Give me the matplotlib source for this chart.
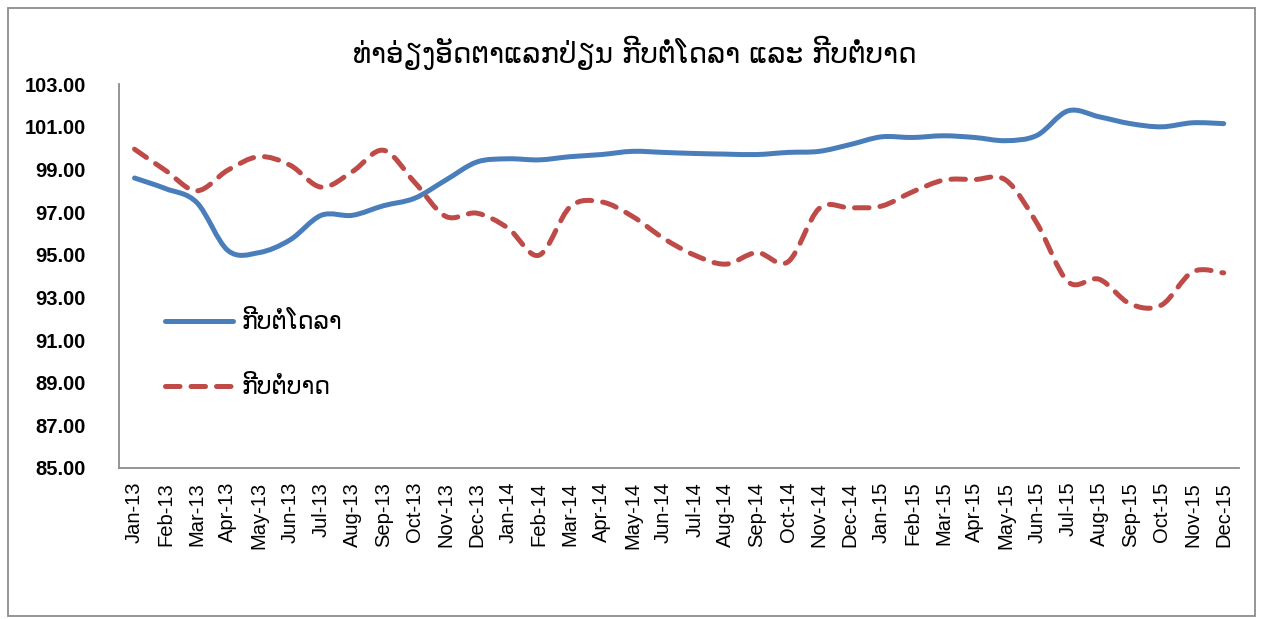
import matplotlib
matplotlib.use("Agg")
import matplotlib.pyplot as plt
from matplotlib.path import Path
from matplotlib.patches import PathPatch, Rectangle
from matplotlib.lines import Line2D

months = ["Jan", "Feb", "Mar", "Apr", "May", "Jun",
          "Jul", "Aug", "Sep", "Oct", "Nov", "Dec"]
labels = [f"{m}-{y}" for y in ("13", "14", "15") for m in months]

kip_usd = [98.60, 98.10, 97.45, 95.20, 95.10, 95.70, 96.85, 96.85, 97.30, 97.65,
           98.50, 99.35, 99.50, 99.45, 99.60, 99.70, 99.85, 99.80, 99.75, 99.72,
           99.70, 99.80, 99.85, 100.17, 100.53, 100.50, 100.58, 100.50, 100.35, 100.60,
           101.75, 101.47, 101.15, 101.00, 101.19, 101.15]
kip_thb = [99.95, 98.95, 98.00, 98.97, 99.60, 99.20, 98.17, 98.90, 99.90, 98.40,
           96.80, 96.95, 96.25, 94.98, 97.25, 97.48, 96.80, 95.77, 94.98, 94.56,
           95.10, 94.67, 97.17, 97.20, 97.28, 97.95, 98.50, 98.53, 98.50, 96.47,
           93.73, 93.85, 92.69, 92.64, 94.20, 94.15]

title = "ທ່າອ່ຽງອັດຕາແລກປ່ຽນ ກີບຕໍ່ໂດລາ ແລະ ກີບຕໍ່ບາດ"
name_usd = "ກີບຕໍ່ໂດລາ"
name_thb = "ກີບຕໍ່ບາດ"

BLUE = "#4A7EBB"
RED = "#BE4B48"


def smooth_path(ys):
    # Excel-style smoothed line: cubic Bezier through the points
    xs = list(range(len(ys)))
    pts = list(zip(xs, ys))
    verts = [pts[0]]
    codes = [Path.MOVETO]
    n = len(pts)
    for i in range(n - 1):
        p0 = pts[max(i - 1, 0)]
        p1 = pts[i]
        p2 = pts[i + 1]
        p3 = pts[min(i + 2, n - 1)]
        c1 = (p1[0] + (p2[0] - p0[0]) / 6, p1[1] + (p2[1] - p0[1]) / 6)
        c2 = (p2[0] - (p3[0] - p1[0]) / 6, p2[1] - (p3[1] - p1[1]) / 6)
        verts += [c1, c2, p2]
        codes += [Path.CURVE4] * 3
    return Path(verts, codes)


fig = plt.figure(figsize=(12.63, 6.19), dpi=100)
ax = fig.add_axes([0.0942, 0.244, 0.887, 0.620])

lw = 3.6
dash = (0, (2.9, 2.2))

p1 = PathPatch(smooth_path(kip_usd), fill=False, edgecolor=BLUE, lw=lw,
               capstyle="round", joinstyle="round")
p2 = PathPatch(smooth_path(kip_thb), fill=False, edgecolor=RED, lw=lw,
               linestyle=dash, capstyle="round", joinstyle="round")
ax.add_patch(p1)
ax.add_patch(p2)

ax.set_xlim(-0.5, len(labels) - 0.5)
ax.set_ylim(85, 103)
ax.set_yticks([85 + 2 * i for i in range(10)])
ax.set_yticklabels([f"{85 + 2 * i:.2f}" for i in range(10)],
                   fontfamily="Liberation Sans", fontweight="bold", fontsize=14.5)
ax.set_xticks(range(len(labels)))
ax.set_xticklabels(labels, rotation=90, fontfamily="Liberation Sans", fontsize=14.5)
ax.tick_params(axis="both", length=0)
ax.tick_params(axis="y", pad=24)
ax.tick_params(axis="x", pad=10)

for s in ("top", "right"):
    ax.spines[s].set_visible(False)
for s in ("left", "bottom"):
    ax.spines[s].set_color("#8C8C8C")
    ax.spines[s].set_linewidth(1.3)

h1 = Line2D([], [], color=BLUE, lw=lw, solid_capstyle="round")
h2 = Line2D([], [], color=RED, lw=lw, linestyle=dash, dash_capstyle="round")
ax.legend([h1, h2], [name_usd, name_thb], loc="center left",
          bbox_to_anchor=(0.022, 0.295), frameon=False, handlelength=2.9,
          handletextpad=0.35, labelspacing=1.75,
          prop={"family": "DejaVu Sans", "size": 17})

fig.text(0.503, 0.915, title, ha="center", va="center",
         fontsize=20, fontfamily="DejaVu Sans")

fig.patches.append(Rectangle((8 / 1263, 3 / 619), 1247 / 1263, 608 / 619,
                             transform=fig.transFigure, fill=False,
                             edgecolor="#8C8C8C", lw=1.3))

fig.savefig("out.png", dpi=100)
